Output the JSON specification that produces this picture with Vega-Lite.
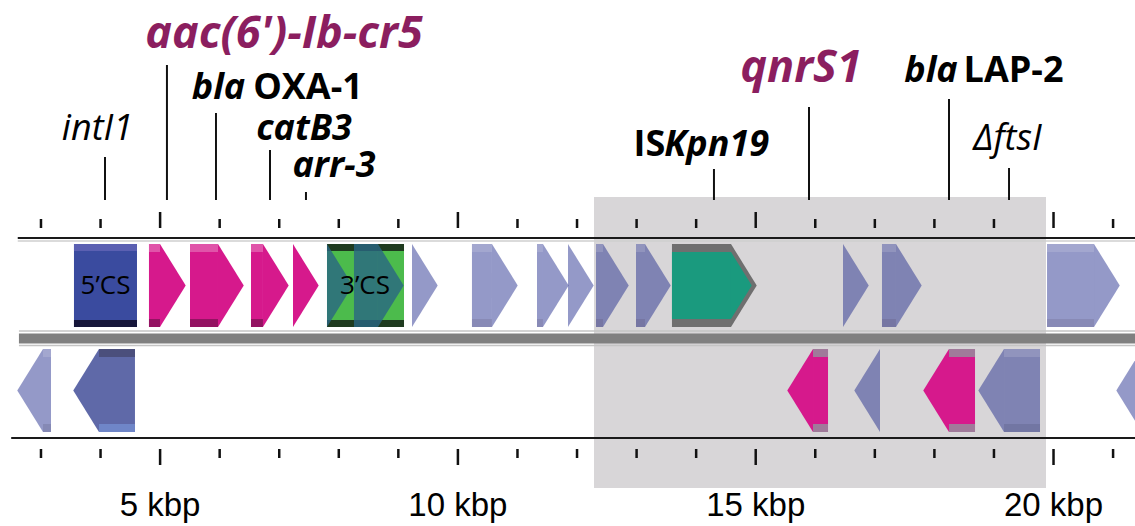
{
  "$schema": "https://vega.github.io/schema/vega-lite/v6.json",
  "width": 1135,
  "height": 526,
  "autosize": {"type": "fit", "contains": "padding"},
  "padding": 0,
  "background": "white",
  "config": {"view": {"stroke": null}},
  "datasets": {
    "region": [{"region": "highlighted", "start": 12.285, "end": 19.874}],
    "track": [
      {"feature": "top", "start": 2.61, "end": 21.4},
      {"feature": "backbone", "start": 2.63, "end": 21.4},
      {"feature": "bottom", "start": 2.5, "end": 21.4}
    ],
    "ticks": [
      {"kbp": 3}, {"kbp": 4}, {"kbp": 5, "label": "5 kbp"}, {"kbp": 6}, {"kbp": 7}, {"kbp": 8}, {"kbp": 9},
      {"kbp": 10, "label": "10 kbp"}, {"kbp": 11}, {"kbp": 12}, {"kbp": 13}, {"kbp": 14},
      {"kbp": 15, "label": "15 kbp"}, {"kbp": 16}, {"kbp": 17}, {"kbp": 18}, {"kbp": 19},
      {"kbp": 20, "label": "20 kbp"}, {"kbp": 21}
    ],
    "genes": [
      {"name": "aac(6')-Ib-cr5", "strand": "+", "type": "resistance", "left": 4.813, "head": 4.998, "right": 5.418},
      {"name": "blaOXA-1", "strand": "+", "type": "resistance", "left": 5.502, "head": 5.972, "right": 6.392},
      {"name": "catB3", "strand": "+", "type": "resistance", "left": 6.526, "head": 6.727, "right": 7.147},
      {"name": "arr-3", "strand": "+", "type": "resistance", "left": 7.231, "head": 7.231, "right": 7.684},
      {"name": "orf1", "strand": "+", "type": "other", "left": 9.229, "head": 9.229, "right": 9.716},
      {"name": "orf2", "strand": "+", "type": "other", "left": 10.236, "head": 10.572, "right": 10.992},
      {"name": "orf3", "strand": "+", "type": "other", "left": 11.328, "head": 11.428, "right": 11.848},
      {"name": "orf4", "strand": "+", "type": "other", "left": 11.848, "head": 11.848, "right": 12.251},
      {"name": "orf5", "strand": "+", "type": "other", "left": 12.318, "head": 12.436, "right": 12.856},
      {"name": "orf6", "strand": "+", "type": "other", "left": 12.99, "head": 13.141, "right": 13.561},
      {"name": "ISKpn19", "strand": "+", "type": "IS", "left": 13.594, "head": 14.585, "right": 15.005},
      {"name": "orf7", "strand": "+", "type": "other", "left": 16.466, "head": 16.466, "right": 16.902},
      {"name": "orf8", "strand": "+", "type": "other", "left": 17.12, "head": 17.355, "right": 17.775},
      {"name": "orf9", "strand": "+", "type": "other", "left": 19.891, "head": 20.68, "right": 21.1},
      {"name": "orf0", "strand": "-", "type": "other", "left": 2.597, "head": 3.034, "right": 3.168},
      {"name": "intI1", "strand": "-", "type": "integrase", "left": 3.554, "head": 3.974, "right": 4.578},
      {"name": "qnrS1", "strand": "-", "type": "resistance", "left": 15.576, "head": 15.962, "right": 16.214},
      {"name": "orf10", "strand": "-", "type": "other", "left": 16.65, "head": 17.087, "right": 17.087},
      {"name": "blaLAP-2", "strand": "-", "type": "resistance", "left": 17.825, "head": 18.245, "right": 18.682},
      {"name": "ΔftsI", "strand": "-", "type": "other", "left": 18.749, "head": 19.169, "right": 19.773},
      {"name": "orf11", "strand": "-", "type": "other", "left": 21.066, "head": 21.486, "right": 22.0}
    ],
    "segments": [
      {"segment": "5CS", "label": "5’CS", "start": 3.554, "end": 4.612, "mid": 4.083},
      {"segment": "3CS", "label": "3’CS", "start": 7.802, "end": 9.095, "mid": 8.44}
    ],
    "csgenes": [
      {"name": "qacEΔ1", "left": 7.802, "head": 7.802, "right": 8.238},
      {"name": "sul1", "left": 8.255, "head": 8.658, "right": 9.095}
    ],
    "leaders": [
      {"gene": "intI1", "pos": 4.075, "top": 1.82},
      {"gene": "aac(6')-Ib-cr5", "pos": 5.115, "top": 2.74},
      {"gene": "blaOXA-1", "pos": 5.938, "top": 2.26},
      {"gene": "catB3", "pos": 6.845, "top": 1.89},
      {"gene": "arr-3", "pos": 7.449, "top": 1.47},
      {"gene": "ISKpn19", "pos": 14.299, "top": 1.7},
      {"gene": "qnrS1", "pos": 15.895, "top": 2.32},
      {"gene": "blaLAP-2", "pos": 18.245, "top": 2.4},
      {"gene": "ΔftsI", "pos": 19.253, "top": 1.71}
    ],
    "labels": [
      {"text": "aac(6')-Ib-cr5", "role": "pmqr", "pos": 7.08, "level": 2.91},
      {"text": "qnrS1", "role": "pmqr", "pos": 15.76, "level": 2.57},
      {"text": "bla", "role": "gene", "pos": 5.98, "level": 2.4},
      {"text": "OXA-1", "role": "designation", "pos": 7.483, "level": 2.4},
      {"text": "catB3", "role": "gene", "pos": 7.416, "level": 1.99},
      {"text": "arr-3", "role": "gene", "pos": 7.919, "level": 1.62},
      {"text": "intI1", "role": "minor", "pos": 3.949, "level": 1.99},
      {"text": "IS", "role": "designation", "pos": 13.215, "level": 1.83},
      {"text": "Kpn19", "role": "gene", "pos": 14.345, "level": 1.83},
      {"text": "bla", "role": "gene", "pos": 17.943, "level": 2.57},
      {"text": "LAP-2", "role": "designation", "pos": 19.329, "level": 2.57},
      {"text": "ΔftsI", "role": "minor", "pos": 19.227, "level": 1.89}
    ]
  },
  "layer": [
    {
      "data": {"name": "region"},
      "mark": {"type": "rect", "fill": "#d8d6d8"},
      "encoding": {
        "x": {"field": "start", "type": "quantitative", "scale": {"domain": [2.312, 21.368], "nice": false, "zero": false}, "axis": null},
        "x2": {"field": "end"},
        "y": {"datum": 1.42, "type": "quantitative", "scale": {"domain": [-1.87, 3.39], "nice": false, "zero": false}, "axis": null},
        "y2": {"datum": -1.49}
      }
    },
    {
      "data": {"name": "track"},
      "transform": [{"filter": "datum.feature === 'top'"}],
      "mark": {"type": "rule", "color": "#1a1a1a", "strokeWidth": 2, "clip": true},
      "encoding": {
        "x": {"field": "start", "type": "quantitative", "scale": {"domain": [2.312, 21.368], "nice": false, "zero": false}, "axis": null},
        "x2": {"field": "end"},
        "y": {"datum": 1.01, "type": "quantitative", "scale": {"domain": [-1.87, 3.39], "nice": false, "zero": false}, "axis": null}
      }
    },
    {
      "data": {"name": "track"},
      "transform": [{"filter": "datum.feature === 'top'"}],
      "mark": {"type": "rule", "color": "#cfcfcf", "strokeWidth": 1.5, "clip": true},
      "encoding": {
        "x": {"field": "start", "type": "quantitative", "scale": {"domain": [2.312, 21.368], "nice": false, "zero": false}, "axis": null},
        "x2": {"field": "end"},
        "y": {"datum": 0.98, "type": "quantitative", "scale": {"domain": [-1.87, 3.39], "nice": false, "zero": false}, "axis": null}
      }
    },
    {
      "data": {"name": "track"},
      "transform": [{"filter": "datum.feature === 'backbone'"}],
      "mark": {"type": "rule", "color": "#c4c4c4", "strokeWidth": 1.5, "clip": true},
      "encoding": {
        "x": {"field": "start", "type": "quantitative", "scale": {"domain": [2.312, 21.368], "nice": false, "zero": false}, "axis": null},
        "x2": {"field": "end"},
        "y": {"datum": 0.08, "type": "quantitative", "scale": {"domain": [-1.87, 3.39], "nice": false, "zero": false}, "axis": null}
      }
    },
    {
      "data": {"name": "track"},
      "transform": [{"filter": "datum.feature === 'backbone'"}],
      "mark": {"type": "rule", "color": "#c4c4c4", "strokeWidth": 1.5, "clip": true},
      "encoding": {
        "x": {"field": "start", "type": "quantitative", "scale": {"domain": [2.312, 21.368], "nice": false, "zero": false}, "axis": null},
        "x2": {"field": "end"},
        "y": {"datum": -0.065, "type": "quantitative", "scale": {"domain": [-1.87, 3.39], "nice": false, "zero": false}, "axis": null}
      }
    },
    {
      "data": {"name": "track"},
      "transform": [{"filter": "datum.feature === 'backbone'"}],
      "mark": {"type": "rect", "fill": "#808080", "clip": true},
      "encoding": {
        "x": {"field": "start", "type": "quantitative", "scale": {"domain": [2.312, 21.368], "nice": false, "zero": false}, "axis": null},
        "x2": {"field": "end"},
        "y": {"datum": 0.055, "type": "quantitative", "scale": {"domain": [-1.87, 3.39], "nice": false, "zero": false}, "axis": null},
        "y2": {"datum": -0.045}
      }
    },
    {
      "data": {"name": "track"},
      "transform": [{"filter": "datum.feature === 'bottom'"}],
      "mark": {"type": "rule", "color": "#1a1a1a", "strokeWidth": 2, "clip": true},
      "encoding": {
        "x": {"field": "start", "type": "quantitative", "scale": {"domain": [2.312, 21.368], "nice": false, "zero": false}, "axis": null},
        "x2": {"field": "end"},
        "y": {"datum": -0.99, "type": "quantitative", "scale": {"domain": [-1.87, 3.39], "nice": false, "zero": false}, "axis": null}
      }
    },
    {
      "data": {"name": "ticks"},
      "transform": [{"filter": "!isValid(datum.label)"}],
      "mark": {"type": "rule", "color": "#111111", "strokeWidth": 2.5},
      "encoding": {
        "x": {"field": "kbp", "type": "quantitative", "scale": {"domain": [2.312, 21.368], "nice": false, "zero": false}, "axis": null},
        "y": {"datum": 1.11, "type": "quantitative", "scale": {"domain": [-1.87, 3.39], "nice": false, "zero": false}, "axis": null},
        "y2": {"datum": 1.2}
      }
    },
    {
      "data": {"name": "ticks"},
      "transform": [{"filter": "isValid(datum.label)"}],
      "mark": {"type": "rule", "color": "#111111", "strokeWidth": 2.5},
      "encoding": {
        "x": {"field": "kbp", "type": "quantitative", "scale": {"domain": [2.312, 21.368], "nice": false, "zero": false}, "axis": null},
        "y": {"datum": 1.11, "type": "quantitative", "scale": {"domain": [-1.87, 3.39], "nice": false, "zero": false}, "axis": null},
        "y2": {"datum": 1.27}
      }
    },
    {
      "data": {"name": "ticks"},
      "transform": [{"filter": "!isValid(datum.label)"}],
      "mark": {"type": "rule", "color": "#111111", "strokeWidth": 2.5},
      "encoding": {
        "x": {"field": "kbp", "type": "quantitative", "scale": {"domain": [2.312, 21.368], "nice": false, "zero": false}, "axis": null},
        "y": {"datum": -1.1, "type": "quantitative", "scale": {"domain": [-1.87, 3.39], "nice": false, "zero": false}, "axis": null},
        "y2": {"datum": -1.19}
      }
    },
    {
      "data": {"name": "ticks"},
      "transform": [{"filter": "isValid(datum.label)"}],
      "mark": {"type": "rule", "color": "#111111", "strokeWidth": 2.5},
      "encoding": {
        "x": {"field": "kbp", "type": "quantitative", "scale": {"domain": [2.312, 21.368], "nice": false, "zero": false}, "axis": null},
        "y": {"datum": -1.1, "type": "quantitative", "scale": {"domain": [-1.87, 3.39], "nice": false, "zero": false}, "axis": null},
        "y2": {"datum": -1.26}
      }
    },
    {
      "data": {"name": "ticks"},
      "transform": [{"filter": "isValid(datum.label)"}],
      "mark": {"type": "text", "font": "Liberation Sans", "fontSize": 33, "baseline": "alphabetic", "align": "center", "color": "#000000"},
      "encoding": {
        "x": {"field": "kbp", "type": "quantitative", "scale": {"domain": [2.312, 21.368], "nice": false, "zero": false}, "axis": null},
        "y": {"datum": -1.77, "type": "quantitative", "scale": {"domain": [-1.87, 3.39], "nice": false, "zero": false}, "axis": null},
        "text": {"field": "label"}
      }
    },
    {
      "data": {"name": "leaders"},
      "mark": {"type": "rule", "color": "#111111", "strokeWidth": 2},
      "encoding": {
        "x": {"field": "pos", "type": "quantitative", "scale": {"domain": [2.312, 21.368], "nice": false, "zero": false}, "axis": null},
        "y": {"field": "top", "type": "quantitative", "scale": {"domain": [-1.87, 3.39], "nice": false, "zero": false}, "axis": null},
        "y2": {"datum": 1.39}
      }
    },
    {
      "data": {"name": "genes"},
      "transform": [{"filter": "datum.type === 'IS'"}],
      "mark": {"type": "rect", "fill": "#6f6f6f"},
      "encoding": {
        "x": {"field": "left", "type": "quantitative", "scale": {"domain": [2.312, 21.368], "nice": false, "zero": false}, "axis": null},
        "x2": {"field": "head"},
        "y": {"datum": 0.95, "type": "quantitative", "scale": {"domain": [-1.87, 3.39], "nice": false, "zero": false}, "axis": null},
        "y2": {"datum": 0.12}
      }
    },
    {
      "data": {"name": "genes"},
      "transform": [{"filter": "datum.type === 'IS'"}],
      "mark": {"type": "point", "shape": "M0,-1L0.62,0L0,1Z", "filled": true, "size": 6889, "strokeWidth": 0, "opacity": 1, "fill": "#6f6f6f"},
      "encoding": {
        "x": {"field": "head", "type": "quantitative", "scale": {"domain": [2.312, 21.368], "nice": false, "zero": false}, "axis": null},
        "y": {"datum": 0.535, "type": "quantitative", "scale": {"domain": [-1.87, 3.39], "nice": false, "zero": false}, "axis": null}
      }
    },
    {
      "data": {"name": "genes"},
      "transform": [{"filter": "datum.strand === '+' && datum.type !== 'IS'"}],
      "mark": {"type": "rect", "clip": true},
      "encoding": {
        "x": {"field": "left", "type": "quantitative", "scale": {"domain": [2.312, 21.368], "nice": false, "zero": false}, "axis": null},
        "x2": {"field": "head"},
        "y": {"datum": 0.95, "type": "quantitative", "scale": {"domain": [-1.87, 3.39], "nice": false, "zero": false}, "axis": null},
        "y2": {"datum": 0.12},
        "fill": {"condition": [{"test": "datum.type === 'resistance'", "value": "#d6198c"}, {"test": "datum.type === 'integrase'", "value": "#5f69a8"}], "value": "#162187"},
        "opacity": {"condition": {"test": "datum.type === 'other'", "value": 0.46}, "value": 1}
      }
    },
    {
      "data": {"name": "genes"},
      "transform": [{"filter": "datum.strand === '+' && datum.type !== 'IS'"}],
      "mark": {"type": "point", "shape": "M0,-1L0.62,0L0,1Z", "filled": true, "size": 6889, "strokeWidth": 0, "clip": true},
      "encoding": {
        "x": {"field": "head", "type": "quantitative", "scale": {"domain": [2.312, 21.368], "nice": false, "zero": false}, "axis": null},
        "y": {"datum": 0.535, "type": "quantitative", "scale": {"domain": [-1.87, 3.39], "nice": false, "zero": false}, "axis": null},
        "fill": {"condition": [{"test": "datum.type === 'resistance'", "value": "#d6198c"}, {"test": "datum.type === 'integrase'", "value": "#5f69a8"}], "value": "#162187"},
        "opacity": {"condition": {"test": "datum.type === 'other'", "value": 0.46}, "value": 1}
      }
    },
    {
      "data": {"name": "genes"},
      "transform": [{"filter": "datum.strand === '+' && datum.type !== 'IS'"}],
      "mark": {"type": "rect", "fill": "#ffffff", "clip": true},
      "encoding": {
        "x": {"field": "left", "type": "quantitative", "scale": {"domain": [2.312, 21.368], "nice": false, "zero": false}, "axis": null},
        "x2": {"field": "head"},
        "y": {"datum": 0.95, "type": "quantitative", "scale": {"domain": [-1.87, 3.39], "nice": false, "zero": false}, "axis": null},
        "y2": {"datum": 0.87},
        "opacity": {"condition": {"test": "datum.type === 'other'", "value": 0.14}, "value": 0.26}
      }
    },
    {
      "data": {"name": "genes"},
      "transform": [{"filter": "datum.strand === '+' && datum.type !== 'IS'"}],
      "mark": {"type": "rect", "fill": "#2a0a20", "clip": true},
      "encoding": {
        "x": {"field": "left", "type": "quantitative", "scale": {"domain": [2.312, 21.368], "nice": false, "zero": false}, "axis": null},
        "x2": {"field": "head"},
        "y": {"datum": 0.2, "type": "quantitative", "scale": {"domain": [-1.87, 3.39], "nice": false, "zero": false}, "axis": null},
        "y2": {"datum": 0.12},
        "opacity": {"condition": {"test": "datum.type === 'other'", "value": 0.1}, "value": 0.38}
      }
    },
    {
      "data": {"name": "genes"},
      "transform": [{"filter": "datum.strand === '-'"}],
      "mark": {"type": "rect", "clip": true},
      "encoding": {
        "x": {"field": "head", "type": "quantitative", "scale": {"domain": [2.312, 21.368], "nice": false, "zero": false}, "axis": null},
        "x2": {"field": "right"},
        "y": {"datum": -0.1, "type": "quantitative", "scale": {"domain": [-1.87, 3.39], "nice": false, "zero": false}, "axis": null},
        "y2": {"datum": -0.93},
        "fill": {"condition": [{"test": "datum.type === 'resistance'", "value": "#d6198c"}, {"test": "datum.type === 'integrase'", "value": "#5f69a8"}], "value": "#162187"},
        "opacity": {"condition": {"test": "datum.type === 'other'", "value": 0.46}, "value": 1}
      }
    },
    {
      "data": {"name": "genes"},
      "transform": [{"filter": "datum.strand === '-'"}],
      "mark": {"type": "point", "shape": "M0,-1L-0.62,0L0,1Z", "filled": true, "size": 6889, "strokeWidth": 0, "clip": true},
      "encoding": {
        "x": {"field": "head", "type": "quantitative", "scale": {"domain": [2.312, 21.368], "nice": false, "zero": false}, "axis": null},
        "y": {"datum": -0.515, "type": "quantitative", "scale": {"domain": [-1.87, 3.39], "nice": false, "zero": false}, "axis": null},
        "fill": {"condition": [{"test": "datum.type === 'resistance'", "value": "#d6198c"}, {"test": "datum.type === 'integrase'", "value": "#5f69a8"}], "value": "#162187"},
        "opacity": {"condition": {"test": "datum.type === 'other'", "value": 0.46}, "value": 1}
      }
    },
    {
      "data": {"name": "genes"},
      "transform": [{"filter": "datum.strand === '-'"}],
      "mark": {"type": "rect", "clip": true},
      "encoding": {
        "x": {"field": "head", "type": "quantitative", "scale": {"domain": [2.312, 21.368], "nice": false, "zero": false}, "axis": null},
        "x2": {"field": "right"},
        "y": {"datum": -0.1, "type": "quantitative", "scale": {"domain": [-1.87, 3.39], "nice": false, "zero": false}, "axis": null},
        "y2": {"datum": -0.18},
        "fill": {"condition": [{"test": "datum.type === 'resistance'", "value": "#a07a9a"}, {"test": "datum.type === 'integrase'", "value": "#4b4f7c"}], "value": "#ffffff"},
        "opacity": {"condition": {"test": "datum.type === 'other'", "value": 0.14}, "value": 1}
      }
    },
    {
      "data": {"name": "genes"},
      "transform": [{"filter": "datum.strand === '-'"}],
      "mark": {"type": "rect", "clip": true},
      "encoding": {
        "x": {"field": "head", "type": "quantitative", "scale": {"domain": [2.312, 21.368], "nice": false, "zero": false}, "axis": null},
        "x2": {"field": "right"},
        "y": {"datum": -0.85, "type": "quantitative", "scale": {"domain": [-1.87, 3.39], "nice": false, "zero": false}, "axis": null},
        "y2": {"datum": -0.93},
        "fill": {"condition": [{"test": "datum.type === 'resistance'", "value": "#a07a9a"}, {"test": "datum.type === 'integrase'", "value": "#6f86c8"}], "value": "#1a1a30"},
        "opacity": {"condition": {"test": "datum.type === 'other'", "value": 0.12}, "value": 1}
      }
    },
    {
      "data": {"name": "genes"},
      "transform": [{"filter": "datum.type === 'IS'"}],
      "mark": {"type": "rect", "fill": "#1a9a7e"},
      "encoding": {
        "x": {"field": "left", "type": "quantitative", "scale": {"domain": [2.312, 21.368], "nice": false, "zero": false}, "axis": null},
        "x2": {"field": "head"},
        "y": {"datum": 0.87, "type": "quantitative", "scale": {"domain": [-1.87, 3.39], "nice": false, "zero": false}, "axis": null},
        "y2": {"datum": 0.2}
      }
    },
    {
      "data": {"name": "genes"},
      "transform": [{"filter": "datum.type === 'IS'"}],
      "mark": {"type": "point", "shape": "M0,-1L0.62,0L0,1Z", "filled": true, "size": 4489, "strokeWidth": 0, "opacity": 1, "fill": "#1a9a7e"},
      "encoding": {
        "x": {"field": "head", "type": "quantitative", "scale": {"domain": [2.312, 21.368], "nice": false, "zero": false}, "axis": null},
        "y": {"datum": 0.535, "type": "quantitative", "scale": {"domain": [-1.87, 3.39], "nice": false, "zero": false}, "axis": null}
      }
    },
    {
      "data": {"name": "segments"},
      "mark": {"type": "rect"},
      "encoding": {
        "x": {"field": "start", "type": "quantitative", "scale": {"domain": [2.312, 21.368], "nice": false, "zero": false}, "axis": null},
        "x2": {"field": "end"},
        "y": {"datum": 0.95, "type": "quantitative", "scale": {"domain": [-1.87, 3.39], "nice": false, "zero": false}, "axis": null},
        "y2": {"datum": 0.12},
        "fill": {"condition": {"test": "datum.segment === '5CS'", "value": "#3a4b9f"}, "value": "#4cbb4c"}
      }
    },
    {
      "data": {"name": "segments"},
      "mark": {"type": "rect"},
      "encoding": {
        "x": {"field": "start", "type": "quantitative", "scale": {"domain": [2.312, 21.368], "nice": false, "zero": false}, "axis": null},
        "x2": {"field": "end"},
        "y": {"datum": 0.95, "type": "quantitative", "scale": {"domain": [-1.87, 3.39], "nice": false, "zero": false}, "axis": null},
        "y2": {"datum": 0.88},
        "fill": {"condition": {"test": "datum.segment === '5CS'", "value": "#5b60b2"}, "value": "#1f3b1f"}
      }
    },
    {
      "data": {"name": "segments"},
      "mark": {"type": "rect"},
      "encoding": {
        "x": {"field": "start", "type": "quantitative", "scale": {"domain": [2.312, 21.368], "nice": false, "zero": false}, "axis": null},
        "x2": {"field": "end"},
        "y": {"datum": 0.19, "type": "quantitative", "scale": {"domain": [-1.87, 3.39], "nice": false, "zero": false}, "axis": null},
        "y2": {"datum": 0.12},
        "fill": {"condition": {"test": "datum.segment === '5CS'", "value": "#16163a"}, "value": "#1f3b1f"}
      }
    },
    {
      "data": {"name": "csgenes"},
      "mark": {"type": "rect", "fill": "#296783", "opacity": 0.8},
      "encoding": {
        "x": {"field": "left", "type": "quantitative", "scale": {"domain": [2.312, 21.368], "nice": false, "zero": false}, "axis": null},
        "x2": {"field": "head"},
        "y": {"datum": 0.95, "type": "quantitative", "scale": {"domain": [-1.87, 3.39], "nice": false, "zero": false}, "axis": null},
        "y2": {"datum": 0.12}
      }
    },
    {
      "data": {"name": "csgenes"},
      "mark": {"type": "point", "shape": "M0,-1L0.62,0L0,1Z", "filled": true, "size": 6889, "strokeWidth": 0, "opacity": 0.8, "fill": "#296783"},
      "encoding": {
        "x": {"field": "head", "type": "quantitative", "scale": {"domain": [2.312, 21.368], "nice": false, "zero": false}, "axis": null},
        "y": {"datum": 0.535, "type": "quantitative", "scale": {"domain": [-1.87, 3.39], "nice": false, "zero": false}, "axis": null}
      }
    },
    {
      "data": {"name": "segments"},
      "mark": {"type": "text", "font": "Open Sans", "fontSize": 26, "baseline": "middle", "align": "center", "color": "#000000"},
      "encoding": {
        "x": {"field": "mid", "type": "quantitative", "scale": {"domain": [2.312, 21.368], "nice": false, "zero": false}, "axis": null},
        "y": {"datum": 0.53, "type": "quantitative", "scale": {"domain": [-1.87, 3.39], "nice": false, "zero": false}, "axis": null},
        "text": {"field": "label"}
      }
    },
    {
      "data": {"name": "labels"},
      "transform": [{"filter": "datum.role === 'pmqr'"}],
      "mark": {"type": "text", "font": "Open Sans", "fontSize": 45, "fontWeight": "bold", "fontStyle": "italic", "baseline": "alphabetic", "align": "center", "color": "#8b1e5f"},
      "encoding": {
        "x": {"field": "pos", "type": "quantitative", "scale": {"domain": [2.312, 21.368], "nice": false, "zero": false}, "axis": null},
        "y": {"field": "level", "type": "quantitative", "scale": {"domain": [-1.87, 3.39], "nice": false, "zero": false}, "axis": null},
        "text": {"field": "text"}
      }
    },
    {
      "data": {"name": "labels"},
      "transform": [{"filter": "datum.role === 'gene'"}],
      "mark": {"type": "text", "font": "Open Sans", "fontSize": 36, "fontWeight": "bold", "fontStyle": "italic", "baseline": "alphabetic", "align": "center", "color": "#000000"},
      "encoding": {
        "x": {"field": "pos", "type": "quantitative", "scale": {"domain": [2.312, 21.368], "nice": false, "zero": false}, "axis": null},
        "y": {"field": "level", "type": "quantitative", "scale": {"domain": [-1.87, 3.39], "nice": false, "zero": false}, "axis": null},
        "text": {"field": "text"}
      }
    },
    {
      "data": {"name": "labels"},
      "transform": [{"filter": "datum.role === 'designation'"}],
      "mark": {"type": "text", "font": "Open Sans", "fontSize": 36, "fontWeight": "bold", "baseline": "alphabetic", "align": "center", "color": "#000000"},
      "encoding": {
        "x": {"field": "pos", "type": "quantitative", "scale": {"domain": [2.312, 21.368], "nice": false, "zero": false}, "axis": null},
        "y": {"field": "level", "type": "quantitative", "scale": {"domain": [-1.87, 3.39], "nice": false, "zero": false}, "axis": null},
        "text": {"field": "text"}
      }
    },
    {
      "data": {"name": "labels"},
      "transform": [{"filter": "datum.role === 'minor'"}],
      "mark": {"type": "text", "font": "Open Sans", "fontSize": 36, "fontStyle": "italic", "baseline": "alphabetic", "align": "center", "color": "#000000"},
      "encoding": {
        "x": {"field": "pos", "type": "quantitative", "scale": {"domain": [2.312, 21.368], "nice": false, "zero": false}, "axis": null},
        "y": {"field": "level", "type": "quantitative", "scale": {"domain": [-1.87, 3.39], "nice": false, "zero": false}, "axis": null},
        "text": {"field": "text"}
      }
    }
  ]
}
